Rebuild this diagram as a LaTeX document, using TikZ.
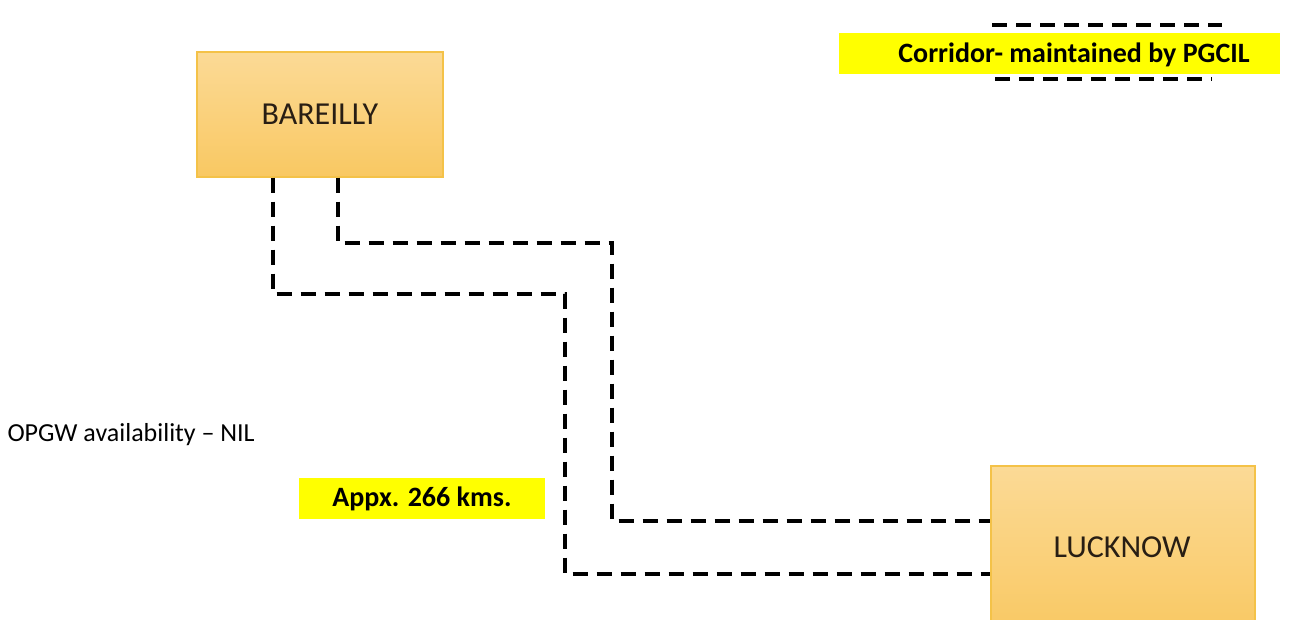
\documentclass[tikz,border=0pt]{standalone}
\usepackage{fontspec}
\setmainfont{Carlito}
\begin{document}
\begin{tikzpicture}[x=1pt,y=-1pt,
  city/.style={draw={rgb,255:red,244;green,194;blue,72}, line width=1.2pt,
    top color={rgb,255:red,251;green,218;blue,150},
    bottom color={rgb,255:red,249;green,200;blue,98},
    inner sep=0pt, font=\fontsize{32}{38}\selectfont, text={rgb,255:red,40;green,30;blue,20}},
  tag/.style={fill={rgb,255:red,255;green,255;blue,0}, inner sep=0pt,
    font=\bfseries\fontsize{28}{32}\selectfont},
  route/.style={line width=3.6pt, dash pattern=on 15pt off 9pt}
]
\useasboundingbox (0,0) rectangle (1290,619);

% stations
\node[city, minimum width=246pt, minimum height=125pt] (bar) at (320,114.5) {BAREILLY};
\node[city, minimum width=264pt, minimum height=170pt] (luck) at (1123,551) {};
\node[font=\fontsize{32}{38}\selectfont, text={rgb,255:red,40;green,30;blue,20}] (lucktxt) at (1122,547) {LUCKNOW};

% labels
\node[tag, minimum width=441pt, minimum height=41pt] (leg) at (1059.5,53.5) {};
\node[font=\bfseries\fontsize{28}{32}\selectfont] (legtxt) at (1074,55) {Corridor- maintained by PGCIL};
\node[font=\fontsize{26}{30}\selectfont, anchor=west] (opgw) at (4,435) {OPGW availability -- NIL};
\node[tag, minimum width=246pt, minimum height=41pt] (dist) at (422,498.5) {Appx. 266 kms.};

% legend line samples
\coordinate (lt1) at (992,25);
\coordinate (lt2) at (1222,25);
\coordinate (lb1) at (995,79);
\coordinate (lb2) at (1212,79);
\draw[route] (lt1) -- (lt2);
\draw[route] (lb1) -- (lb2);

% fibre routes
\coordinate (j1) at (565,294);
\coordinate (j2) at (612,243);
\draw[route] ([xshift=-47pt]bar.south) |- (j1) |- ([yshift=-23pt]luck.west);
\draw[route] ([xshift=18pt]bar.south) |- (j2) |- ([yshift=30pt]luck.west);
\end{tikzpicture}
\end{document}
